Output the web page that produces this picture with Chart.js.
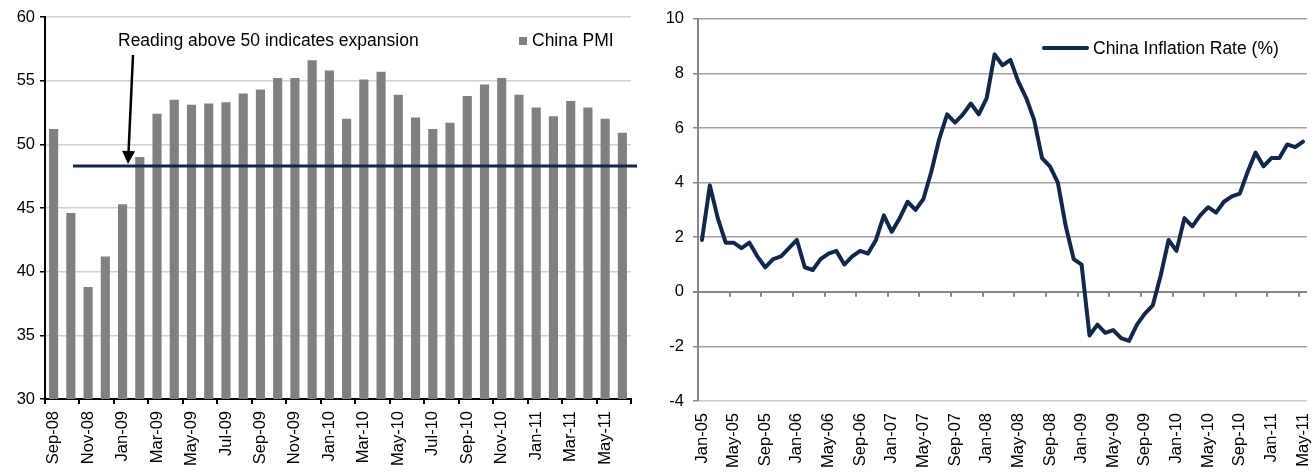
<!DOCTYPE html>
<html>
<head>
<meta charset="utf-8">
<title>China PMI and Inflation</title>
<script src="https://cdn.jsdelivr.net/npm/chart.js@4.4.1/dist/chart.umd.min.js"></script>
<style>
  html, body { margin: 0; padding: 0; background: #fff; }
  #wrap { position: relative; width: 1314px; height: 472px; overflow: hidden; background: #fff; }
  #pmiBox { position: absolute; left: 0; top: 0; width: 650px; height: 472px; overflow: hidden; }
  #cpiBox { position: absolute; left: 650px; top: 0; width: 664px; height: 472px; overflow: hidden; }
  canvas { display: block; }
</style>
</head>
<body>
<div id="wrap">
  <div id="pmiBox"><canvas id="pmi" width="650" height="472"></canvas></div>
  <div id="cpiBox"><canvas id="cpi" width="680" height="472"></canvas></div>
</div>
<script>
// ---- China manufacturing PMI, monthly ----
const pmiMonths = [
  'Sep-08','Oct-08','Nov-08','Dec-08',
  'Jan-09','Feb-09','Mar-09','Apr-09','May-09','Jun-09','Jul-09','Aug-09','Sep-09','Oct-09','Nov-09','Dec-09',
  'Jan-10','Feb-10','Mar-10','Apr-10','May-10','Jun-10','Jul-10','Aug-10','Sep-10','Oct-10','Nov-10','Dec-10',
  'Jan-11','Feb-11','Mar-11','Apr-11','May-11','Jun-11'
];
const pmiValues = [
  51.2, 44.6, 38.8, 41.2,
  45.3, 49.0, 52.4, 53.5, 53.1, 53.2, 53.3, 54.0, 54.3, 55.2, 55.2, 56.6,
  55.8, 52.0, 55.1, 55.7, 53.9, 52.1, 51.2, 51.7, 53.8, 54.7, 55.2, 53.9,
  52.9, 52.2, 53.4, 52.9, 52.0, 50.9
];
const pmiXTickLabels = [
  'Sep-08','Nov-08','Jan-09','Mar-09','May-09','Jul-09','Sep-09','Nov-09',
  'Jan-10','Mar-10','May-10','Jul-10','Sep-10','Nov-10','Jan-11','Mar-11','May-11'
];
const pmiYTicks = [30, 35, 40, 45, 50, 55, 60];
const pmiMarkerLevel = [48.3];
const pmiNote = 'Reading above 50 indicates expansion';

// ---- China CPI inflation, year on year, monthly ----
const cpiMonths = [
  'Jan-05','Feb-05','Mar-05','Apr-05','May-05','Jun-05','Jul-05','Aug-05','Sep-05','Oct-05','Nov-05','Dec-05',
  'Jan-06','Feb-06','Mar-06','Apr-06','May-06','Jun-06','Jul-06','Aug-06','Sep-06','Oct-06','Nov-06','Dec-06',
  'Jan-07','Feb-07','Mar-07','Apr-07','May-07','Jun-07','Jul-07','Aug-07','Sep-07','Oct-07','Nov-07','Dec-07',
  'Jan-08','Feb-08','Mar-08','Apr-08','May-08','Jun-08','Jul-08','Aug-08','Sep-08','Oct-08','Nov-08','Dec-08',
  'Jan-09','Feb-09','Mar-09','Apr-09','May-09','Jun-09','Jul-09','Aug-09','Sep-09','Oct-09','Nov-09','Dec-09',
  'Jan-10','Feb-10','Mar-10','Apr-10','May-10','Jun-10','Jul-10','Aug-10','Sep-10','Oct-10','Nov-10','Dec-10',
  'Jan-11','Feb-11','Mar-11','Apr-11','May-11'
];
const cpiValues = [
  1.9, 3.9, 2.7, 1.8, 1.8, 1.6, 1.8, 1.3, 0.9, 1.2, 1.3, 1.6,
  1.9, 0.9, 0.8, 1.2, 1.4, 1.5, 1.0, 1.3, 1.5, 1.4, 1.9, 2.8,
  2.2, 2.7, 3.3, 3.0, 3.4, 4.4, 5.6, 6.5, 6.2, 6.5, 6.9, 6.5,
  7.1, 8.7, 8.3, 8.5, 7.7, 7.1, 6.3, 4.9, 4.6, 4.0, 2.4, 1.2,
  1.0, -1.6, -1.2, -1.5, -1.4, -1.7, -1.8, -1.2, -0.8, -0.5, 0.6, 1.9,
  1.5, 2.7, 2.4, 2.8, 3.1, 2.9, 3.3, 3.5, 3.6, 4.4, 5.1, 4.6,
  4.9, 4.9, 5.4, 5.3, 5.5
];
const cpiXTickLabels = [
  'Jan-05','May-05','Sep-05','Jan-06','May-06','Sep-06','Jan-07','May-07','Sep-07',
  'Jan-08','May-08','Sep-08','Jan-09','May-09','Sep-09','Jan-10','May-10','Sep-10','Jan-11','May-11'
];
const cpiYTicks = [-4, -2, 0, 2, 4, 6, 8, 10];

// ---- shared styling ----
const FONT = '"Liberation Sans", Arial, Helvetica, sans-serif';
const NAVY = '#11284a';
const BAR_GREY = '#808080';
Chart.defaults.font.family = FONT;
Chart.defaults.font.size = 16;
Chart.defaults.color = '#000';

function labelPicker(shown) {
  return function (value) {
    const label = this.getLabelForValue(value);
    return shown.includes(label) ? label : '';
  };
}

// Threshold line, note with arrow and legend for the PMI panel
const pmiDecor = {
  id: 'pmiDecor',
  afterDatasetsDraw(chart) {
    const { ctx, chartArea: a, scales } = chart;
    const lineY = scales.y.getPixelForValue(pmiMarkerLevel[0]);
    ctx.save();

    // horizontal reference line
    ctx.strokeStyle = NAVY;
    ctx.lineWidth = 3;
    ctx.beginPath();
    ctx.moveTo(a.left + 28, lineY);
    ctx.lineTo(a.right + 6, lineY);
    ctx.stroke();

    // note text
    ctx.fillStyle = '#000';
    ctx.font = '17.5px ' + FONT;
    ctx.textBaseline = 'middle';
    ctx.textAlign = 'left';
    ctx.fillText(pmiNote, a.left + 73, a.top + 24);

    // arrow from the note down to the line
    const x0 = a.left + 88, y0 = a.top + 38;
    const x1 = a.left + 83, y1 = lineY - 2;
    const ang = Math.atan2(y1 - y0, x1 - x0);
    const headLen = 13, headHalf = 6.5;
    const bx = x1 - headLen * Math.cos(ang), by = y1 - headLen * Math.sin(ang);
    ctx.strokeStyle = '#000';
    ctx.lineWidth = 2.5;
    ctx.beginPath();
    ctx.moveTo(x0, y0);
    ctx.lineTo(bx, by);
    ctx.stroke();
    ctx.fillStyle = '#000';
    ctx.beginPath();
    ctx.moveTo(x1, y1);
    ctx.lineTo(bx + headHalf * Math.sin(ang), by - headHalf * Math.cos(ang));
    ctx.lineTo(bx - headHalf * Math.sin(ang), by + headHalf * Math.cos(ang));
    ctx.closePath();
    ctx.fill();

    // legend
    const ds = chart.data.datasets[0];
    ctx.fillStyle = ds.backgroundColor;
    ctx.fillRect(a.right - 112, a.top + 20, 8, 8);
    ctx.fillStyle = '#000';
    ctx.font = '17.5px ' + FONT;
    ctx.fillText(ds.label, a.right - 99, a.top + 24.5);
    ctx.restore();
  }
};

// Category ticks sitting on the zero line, and legend, for the CPI panel
const cpiDecor = {
  id: 'cpiDecor',
  beforeDatasetsDraw(chart) {
    const { ctx, scales } = chart;
    const y0 = scales.y.getPixelForValue(0);
    ctx.save();
    ctx.strokeStyle = '#868686';
    ctx.lineWidth = 2;
    ctx.beginPath();
    for (let i = 4; i < cpiMonths.length; i += 4) {
      const x = Math.round(scales.x.getPixelForValue(i - 0.5));
      ctx.moveTo(x, y0);
      ctx.lineTo(x, y0 + 5);
    }
    ctx.stroke();
    ctx.restore();
  },
  afterDatasetsDraw(chart) {
    const { ctx, chartArea: a } = chart;
    const ds = chart.data.datasets[0];
    ctx.save();
    ctx.strokeStyle = ds.borderColor;
    ctx.lineWidth = 4;
    ctx.lineCap = 'round';
    ctx.beginPath();
    ctx.moveTo(a.right - 263, a.top + 29);
    ctx.lineTo(a.right - 220, a.top + 29);
    ctx.stroke();
    ctx.fillStyle = '#000';
    ctx.font = '17.5px ' + FONT;
    ctx.textBaseline = 'middle';
    ctx.textAlign = 'left';
    ctx.fillText(ds.label, a.right - 214, a.top + 30);
    ctx.restore();
  }
};

new Chart(document.getElementById('pmi'), {
  type: 'bar',
  data: {
    labels: pmiMonths,
    datasets: [{
      label: 'China PMI',
      data: pmiValues,
      backgroundColor: BAR_GREY,
      borderWidth: 0,
      categoryPercentage: 1,
      barPercentage: 0.53
    }]
  },
  options: {
    responsive: false,
    animation: false,
    devicePixelRatio: 1,
    layout: { padding: { top: 17, right: 19, left: 0, bottom: 0 } },
    plugins: { legend: { display: false }, tooltip: { enabled: false } },
    scales: {
      x: {
        offset: true,
        grid: {
          offset: true,
          drawOnChartArea: false,
          tickLength: 5,
          lineWidth: 2,
          color: (c) => (c.type !== 'tick' || c.index % 2 === 0) ? '#000' : 'rgba(0,0,0,0)'
        },
        border: { color: '#000', width: 2 },
        ticks: {
          autoSkip: false,
          minRotation: 90,
          maxRotation: 90,
          padding: 7,
          font: { size: 16.5 },
          callback: labelPicker(pmiXTickLabels)
        },
        afterFit: (s) => { s.height = 73; }
      },
      y: {
        min: pmiYTicks[0],
        max: pmiYTicks[pmiYTicks.length - 1],
        afterBuildTicks: (s) => { s.ticks = pmiYTicks.map((v) => ({ value: v })); },
        ticks: { padding: 5, font: { size: 16.5 } },
        grid: { color: '#d0d0d0', lineWidth: 1.5, tickColor: '#000', tickLength: 5 },
        border: { color: '#000', width: 2 },
        afterFit: (s) => { s.width = 45; }
      }
    }
  },
  plugins: [pmiDecor]
});

new Chart(document.getElementById('cpi'), {
  type: 'line',
  data: {
    labels: cpiMonths,
    datasets: [{
      label: 'China Inflation Rate (%)',
      data: cpiValues,
      borderColor: NAVY,
      borderWidth: 4,
      pointRadius: 0,
      tension: 0,
      borderJoinStyle: 'round',
      borderCapStyle: 'round'
    }]
  },
  options: {
    responsive: false,
    animation: false,
    devicePixelRatio: 1,
    layout: { padding: { top: 16, right: 23, left: 0, bottom: 0 } },
    plugins: { legend: { display: false }, tooltip: { enabled: false } },
    scales: {
      x: {
        offset: true,
        grid: { offset: true, drawOnChartArea: false, color: 'rgba(0,0,0,0)', tickLength: 5 },
        border: { display: false },
        ticks: {
          autoSkip: false,
          minRotation: 90,
          maxRotation: 90,
          padding: 7,
          font: { size: 16.5 },
          callback: labelPicker(cpiXTickLabels)
        },
        afterFit: (s) => { s.height = 71; }
      },
      y: {
        min: cpiYTicks[0],
        max: cpiYTicks[cpiYTicks.length - 1],
        afterBuildTicks: (s) => { s.ticks = cpiYTicks.map((v) => ({ value: v })); },
        ticks: { padding: 9, font: { size: 16.5 } },
        grid: {
          color: (c) => c.tick && c.tick.value === 0 ? '#868686' : (c.tick && c.tick.value === cpiYTicks[0] ? '#c8c8c8' : '#a2a2a2'),
          lineWidth: (c) => c.tick && c.tick.value === 0 ? 2 : 1.5,
          tickColor: '#868686',
          tickLength: 5
        },
        border: { color: '#868686', width: 2 },
        afterFit: (s) => { s.width = 48; }
      }
    }
  },
  plugins: [cpiDecor]
});
</script>
</body>
</html>
